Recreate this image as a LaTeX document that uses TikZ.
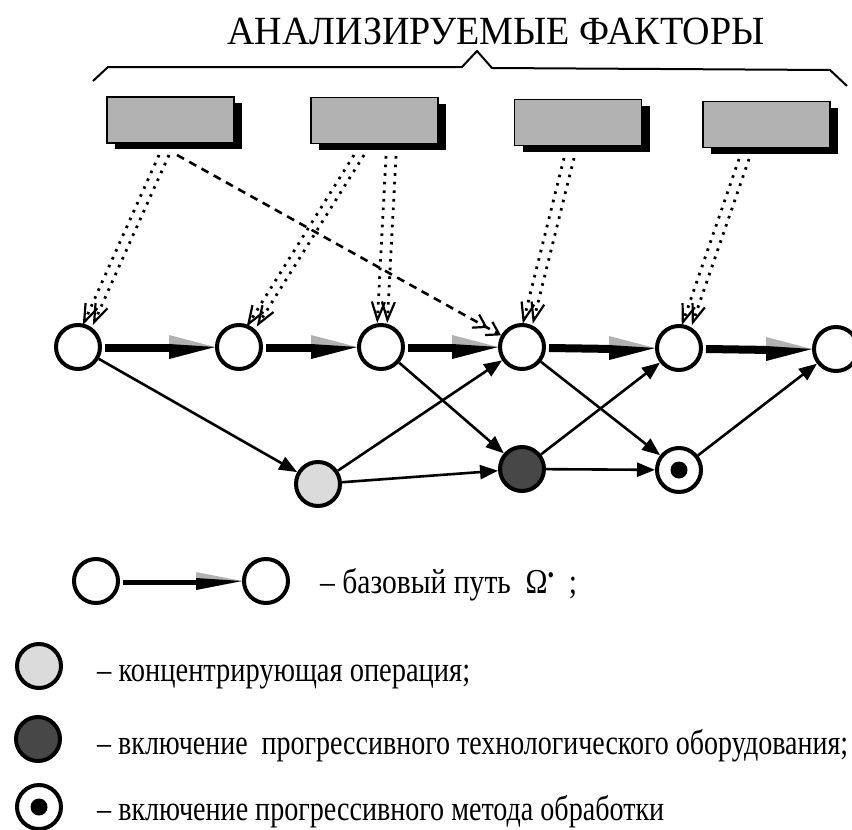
\documentclass[tikz,border=0pt]{standalone}
\usepackage{fontspec}
\setmainfont{Liberation Serif}
\usetikzlibrary{arrows.meta,calc,shadows}
\newcommand\basearr[4]{%
  \draw[line width=#3] ($(#1.east)+(3,1)$) -- ($(#2.west)+(-40,1)$);
  \fill[gray!60] ($(#2.west)+(-46,-#4)$) -- (#2.west) -- ($(#2.west)+(-46,#4)$) -- cycle;
  \fill[black] ($(#2.west)+(-46,-3)$) -- (#2.west) -- ($(#2.west)+(-46,#4)$) -- cycle;
}
\begin{document}
\begin{tikzpicture}[x=1pt,y=-1pt,
  nd/.style={circle,draw,line width=4pt,minimum size=44pt,inner sep=0pt,fill=white},
  conc/.style={nd,fill=gray!28},
  prog/.style={nd,fill=black!72},
  factor/.style={draw,line width=1.8pt,fill=gray!60,minimum width=127pt,minimum height=46pt,inner sep=0pt,
    drop shadow={shadow xshift=8pt,shadow yshift=-6pt,fill=black,opacity=1}},
  link/.style={line width=2.6pt,-{Triangle[length=18pt,width=14pt]}},
  dots/.style={line width=2.8pt,dash pattern=on 2.6pt off 6pt,-{Straight Barb[length=18pt,width=13pt,line width=2.2pt]}},
  dashline/.style={line width=2.6pt,dash pattern=on 8pt off 6pt,
    -{Straight Barb[length=12pt,width=15pt,line width=2.2pt]Straight Barb[length=12pt,width=15pt,line width=2.2pt]}},
  legtext/.style={anchor=base west,inner sep=0pt,font=\fontsize{35}{38}\selectfont}
]
\useasboundingbox (0,0) rectangle (852,830);

% title and brace
\node[anchor=base,inner sep=0pt,font=\fontsize{40}{44}\selectfont] (title) at (496,44)
  {\resizebox{537pt}{\height}{АНАЛИЗИРУЕМЫЕ ФАКТОРЫ}};
\draw[line width=2pt,line join=round] (93,81) -- (108,67) -- (462,67) -- (477,51) -- (492,68) -- (830,70) -- (847,86);

% factor boxes
\node[factor] (b1) at (170.5,120) {};
\node[factor] (b2) at (374.5,120.5) {};
\node[factor] (b3) at (578,122.5) {};
\node[factor] (b4) at (766.5,124.5) {};

% graph nodes
\node[nd] (n1) at (78,347) {};
\node[nd] (n2) at (239,347) {};
\node[nd] (n3) at (381,347) {};
\node[nd] (n4) at (522,347) {};
\node[nd] (n5) at (679,348) {};
\node[nd] (n6) at (836,349) {};
\node[conc] (g) at (318,484) {};
\node[prog] (d) at (522,469) {};
\node[nd] (t) at (679,470) {};
\fill[black] (t.center) circle[radius=8.5pt];

% base path
\basearr{n1}{n2}{8pt}{12}
\basearr{n2}{n3}{8pt}{12}
\basearr{n3}{n4}{8pt}{12}
\basearr{n4}{n5}{8pt}{12}
\basearr{n5}{n6}{8pt}{12}

% thin links
\draw[link] (n1) -- (g);
\draw[link] (g) -- (n4);
\draw[link] (g) -- (d);
\draw[link] (n3) -- (d);
\draw[link] (d) -- (n5);
\draw[link] (n4) -- (t);
\draw[link] (d) -- (t);
\draw[link] (t) -- (n6);

% factor influences
\coordinate (s11) at (164,155);
\coordinate (s14) at (177,155);
\coordinate (s22) at (359,155);
\coordinate (s23) at (391,156);
\coordinate (s34) at (569,158);
\coordinate (s45) at (744,159);
\foreach \s/\e in {s11/n1,s22/n2,s23/n3,s34/n4,s45/n5}{
  \draw[dots,transform canvas={xshift=-5pt}] (\s) -- (\e);
  \draw[dots,transform canvas={xshift=5pt}] (\s) -- (\e);
}
\draw[dashline] (s14) -- (n4);

% legend
\node[nd] (L1) at (96,581) {};
\node[nd] (L2) at (266,581) {};
\basearr{L1}{L2}{5pt}{9}
\node[legtext] (t1) at (320,593) {\resizebox{257pt}{\height}{– базовый путь~ Ω\raisebox{11pt}{\fontsize{22}{22}\selectfont •}~ ;}};
\node[conc] (L3) at (39,666) {};
\node[legtext] (t2) at (97,681) {\resizebox{373pt}{\height}{– концентрирующая операция;}};
\node[prog] (L4) at (38,739) {};
\node[legtext] (t3) at (97,754) {\resizebox{751pt}{\height}{– включение~ прогрессивного технологического оборудования;}};
\node[nd] (L5) at (39,807) {};
\fill[black] (L5.center) circle[radius=8.5pt];
\node[legtext] (t4) at (97,820) {\resizebox{567pt}{\height}{– включение прогрессивного метода обработки}};
\end{tikzpicture}
\end{document}
